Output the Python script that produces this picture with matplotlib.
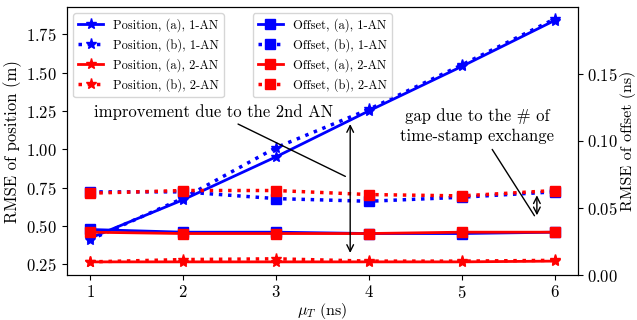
import matplotlib
matplotlib.use('Agg')
import matplotlib.pyplot as plt

plt.rcParams['font.family'] = 'cmr10'
plt.rcParams['mathtext.fontset'] = 'cm'
plt.rcParams['axes.formatter.use_mathtext'] = True
plt.rcParams['font.size'] = 12

mu_T = [1, 2, 3, 4, 5, 6]

# RMSE of position (m)
pos_a_1an = [0.42, 0.67, 0.95, 1.25, 1.54, 1.84]
pos_b_1an = [0.41, 0.68, 1.01, 1.26, 1.55, 1.85]
pos_a_2an = [0.265, 0.265, 0.265, 0.265, 0.265, 0.27]
pos_b_2an = [0.265, 0.28, 0.285, 0.27, 0.27, 0.275]

# RMSE of offset (ns)
off_a_1an = [0.034, 0.032, 0.032, 0.031, 0.031, 0.032]
off_b_1an = [0.062, 0.062, 0.057, 0.055, 0.058, 0.062]
off_a_2an = [0.032, 0.031, 0.031, 0.031, 0.032, 0.032]
off_b_2an = [0.061, 0.063, 0.063, 0.060, 0.059, 0.063]

fig, ax = plt.subplots(figsize=(6.37, 3.2), dpi=100)
fig.subplots_adjust(left=0.105, right=0.907, bottom=0.14, top=0.978)
ax2 = ax.twinx()

ax.plot(mu_T, pos_a_1an, '-', color='b', marker='*', ms=8, lw=2, label='Position, (a), 1-AN')
ax.plot(mu_T, pos_b_1an, ':', color='b', marker='*', ms=8, lw=2.5, label='Position, (b), 1-AN')
ax.plot(mu_T, pos_a_2an, '-', color='r', marker='*', ms=8, lw=2, label='Position, (a), 2-AN')
ax.plot(mu_T, pos_b_2an, ':', color='r', marker='*', ms=8, lw=2.5, label='Position, (b), 2-AN')

ax2.plot(mu_T, off_a_1an, '-', color='b', marker='s', ms=7.5, lw=2, label='Offset, (a), 1-AN')
ax2.plot(mu_T, off_b_1an, ':', color='b', marker='s', ms=7.5, lw=2.5, label='Offset, (b), 1-AN')
ax2.plot(mu_T, off_a_2an, '-', color='r', marker='s', ms=7.5, lw=2, label='Offset, (a), 2-AN')
ax2.plot(mu_T, off_b_2an, ':', color='r', marker='s', ms=7.5, lw=2.5, label='Offset, (b), 2-AN')

ax.set_xlim(0.75, 6.25)
ax.set_ylim(0.178, 1.928)
ax2.set_ylim(0, 0.1995)
ax.set_xticks(mu_T)
ax.set_yticks([0.25, 0.5, 0.75, 1.0, 1.25, 1.5, 1.75])
ax2.set_yticks([0, 0.05, 0.1, 0.15])
ax.tick_params(axis='x', pad=2.5)

ax.set_xlabel(r'$\mu_T$ (ns)', labelpad=0, fontsize=11.5)
ax.set_ylabel('RMSE of position (m)', labelpad=3)
ax2.set_ylabel('RMSE of offset (ns)', labelpad=1, fontsize=11.5)

ax.legend(loc='upper left', fontsize=9)
ax2.legend(loc='upper center', fontsize=9)

# annotations
ax2.annotate('', xy=(3.8, 0.0145), xytext=(3.8, 0.1145),
             arrowprops=dict(arrowstyle='<->', color='k', lw=1))
ax2.annotate('improvement due to the 2nd AN', xy=(3.775, 0.0726), xytext=(2.33, 0.1213),
             ha='center', va='center',
             arrowprops=dict(arrowstyle='-', color='k', lw=1))
ax2.annotate('', xy=(5.81, 0.0425), xytext=(5.81, 0.0615),
             arrowprops=dict(arrowstyle='<->', color='k', lw=1))
ax2.annotate('gap due to the # of\ntime-stamp exchange', xy=(5.8, 0.0425), xytext=(5.17, 0.1108),
             ha='center', va='center', linespacing=1.4,
             arrowprops=dict(arrowstyle='-', color='k', lw=1))

fig.savefig('out.png', dpi=100)
